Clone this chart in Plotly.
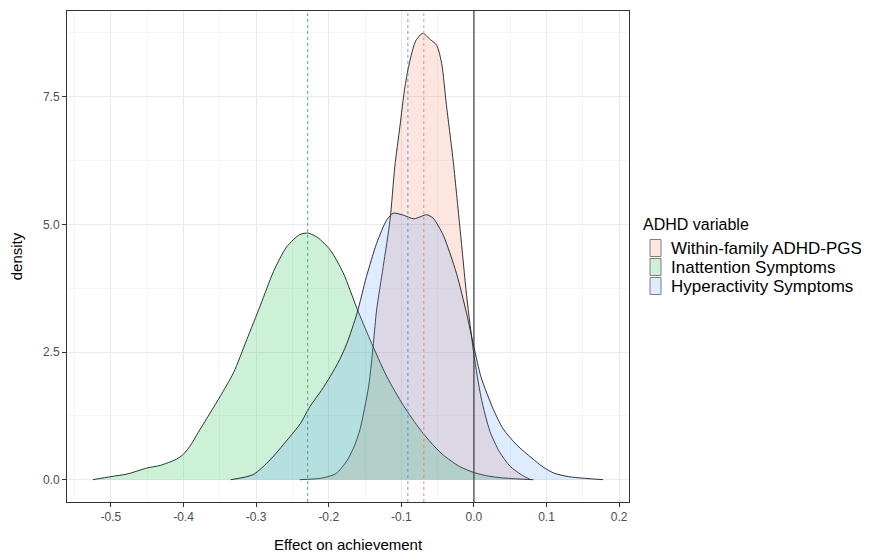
import plotly.graph_objects as go

# ---------------- data ----------------
groups = ["Within-family ADHD-PGS", "Inattention Symptoms", "Hyperactivity Symptoms"]

pgs_x = [-0.24, -0.21, -0.19, -0.175, -0.165, -0.157, -0.145, -0.1385, -0.134, -0.125,
         -0.1155, -0.109, -0.102, -0.095, -0.088, -0.08, -0.0706, -0.06, -0.0513, -0.0444,
         -0.038, -0.029, -0.019, -0.010, 0.0, 0.01, 0.022, 0.035, 0.05, 0.065, 0.078]
pgs_y = [0.0, 0.03, 0.12, 0.37, 0.65, 0.98, 1.83, 2.67, 3.33, 4.17,
         5.09, 6.13, 6.91, 7.70, 8.22, 8.60, 8.74, 8.62, 8.51, 8.15,
         7.35, 6.30, 4.90, 3.60, 2.45, 1.60, 0.95, 0.55, 0.26, 0.10, 0.0]

inatt_x = [-0.525, -0.50, -0.478, -0.45, -0.432, -0.41, -0.40, -0.39, -0.38, -0.368,
           -0.35, -0.331, -0.313, -0.294, -0.276, -0.258, -0.24, -0.228, -0.215, -0.198,
           -0.18, -0.161, -0.143, -0.12, -0.097, -0.074, -0.055, -0.042, -0.02, 0.0,
           0.02, 0.036, 0.06, 0.082]
inatt_y = [0.0, 0.06, 0.11, 0.23, 0.28, 0.40, 0.50, 0.68, 0.92, 1.20,
           1.62, 2.10, 2.74, 3.42, 4.08, 4.56, 4.80, 4.83, 4.74, 4.50,
           4.05, 3.35, 2.74, 2.02, 1.45, 0.98, 0.66, 0.48, 0.26, 0.14,
           0.07, 0.04, 0.015, 0.0]

hyper_x = [-0.335, -0.304, -0.28, -0.253, -0.239, -0.226, -0.21, -0.198, -0.185, -0.175,
           -0.161, -0.148, -0.134, -0.12, -0.111, -0.097, -0.083, -0.072, -0.065, -0.056,
           -0.042, -0.024, -0.01, 0.0, 0.01, 0.027, 0.04, 0.059, 0.08, 0.095,
           0.11, 0.13, 0.15, 0.178]
hyper_y = [0.0, 0.10, 0.40, 0.85, 1.10, 1.43, 1.75, 2.02, 2.35, 2.67,
           3.26, 3.98, 4.63, 5.09, 5.22, 5.18, 5.11, 5.16, 5.19, 5.12,
           4.78, 4.04, 3.25, 2.60, 2.00, 1.37, 1.00, 0.68, 0.42, 0.25,
           0.13, 0.06, 0.03, 0.0]

means = [-0.069, -0.229, -0.091]

x_ticks = [-0.5, -0.4, -0.3, -0.2, -0.1, 0.0, 0.1, 0.2]
x_tick_labels = ["-0.5", "-0.4", "-0.3", "-0.2", "-0.1", "0.0", "0.1", "0.2"]
y_ticks = [0.0, 2.5, 5.0, 7.5]
y_tick_labels = ["0.0", "2.5", "5.0", "7.5"]

# ---------------- styling ----------------
hues = ["#E8806A", "#2EA57A", "#5B8FE0"]
fills = ["rgba(242,128,95,0.2)", "rgba(0,186,56,0.2)", "rgba(97,156,255,0.2)"]
FONT = "Liberation Sans, Arial, sans-serif"

OFF = 8  # page body margin
W, H = 869 - OFF, 553 - OFF
# plot panel in page pixels
PL, PR, PT, PB = 67, 629, 11, 502
L, R, T, B = PL - OFF, PR - OFF, PT - OFF, PB - OFF


def px(xp):  # page pixel -> paper
    return (xp - PL) / (PR - PL)


def py(yp):
    return (PB - yp) / (PB - PT)


fig = go.Figure()
series = [(pgs_x, pgs_y), (inatt_x, inatt_y), (hyper_x, hyper_y)]
for (xs, ys), name, fc in zip(series, groups, fills):
    fig.add_trace(go.Scatter(
        x=xs, y=ys, name=name, mode="lines", fill="tozeroy", fillcolor=fc,
        line=dict(color="rgba(30,30,30,0.9)", width=1.0, shape="spline", smoothing=0.7),
        showlegend=False, hoverinfo="skip"))

shapes = []
for m, c in zip(means, hues):
    shapes.append(dict(type="line", xref="x", yref="paper", x0=m, x1=m, y0=0, y1=1,
                       line=dict(color=c, width=1, dash="3px,3px"), opacity=0.9))
shapes.append(dict(type="line", xref="x", yref="paper", x0=0, x1=0, y0=0, y1=1,
                   line=dict(color="#3A3A3A", width=1.2)))

# custom legend (ggplot style)
annotations = [dict(text="ADHD variable", xref="paper", yref="paper", x=px(641), y=py(224),
                    xanchor="left", yanchor="middle", showarrow=False,
                    font=dict(family=FONT, size=16, color="black"))]
key_top = [239.5, 258.5, 277.5]
for i, (name, fc) in enumerate(zip(groups, fills)):
    shapes.append(dict(type="rect", xref="paper", yref="paper",
                       x0=px(650), x1=px(661), y0=py(key_top[i] + 17), y1=py(key_top[i]),
                       fillcolor=fc, line=dict(color="#7F7F7F", width=1)))
    annotations.append(dict(text=name, xref="paper", yref="paper", x=px(669),
                            y=py(key_top[i] + 8.5), xanchor="left", yanchor="middle",
                            showarrow=False, font=dict(family=FONT, size=17, color="black")))

fig.update_layout(
    width=W, height=H,
    margin=dict(l=L, r=W - R, t=T, b=H - B, autoexpand=False),
    paper_bgcolor="white", plot_bgcolor="white",
    font=dict(family=FONT),
    shapes=shapes, annotations=annotations, showlegend=False,
)
fig.update_xaxes(
    range=[-0.5605, 0.2136], tickmode="array", tickvals=x_ticks, ticktext=x_tick_labels,
    showgrid=True, gridcolor="#EBEBEB", gridwidth=1,
    minor=dict(dtick=0.05, tick0=0, showgrid=True, gridcolor="#F5F5F5", gridwidth=0.6),
    zeroline=False, showline=True, mirror=True, linecolor="#333333", linewidth=1,
    ticks="outside", ticklen=4, tickcolor="#333333", tickwidth=1,
    tickfont=dict(size=12, color="#4D4D4D", family=FONT),
    title=dict(text="Effect on achievement", font=dict(size=15, color="black", family=FONT), standoff=16),
)
fig.update_yaxes(
    range=[-0.437, 9.18], tickmode="array", tickvals=y_ticks, ticktext=y_tick_labels,
    showgrid=True, gridcolor="#EBEBEB", gridwidth=1,
    minor=dict(dtick=1.25, tick0=0, showgrid=True, gridcolor="#F5F5F5", gridwidth=0.6),
    zeroline=False, showline=True, mirror=True, linecolor="#333333", linewidth=1,
    ticks="outside", ticklen=4, tickcolor="#333333", tickwidth=1,
    tickfont=dict(size=12, color="#4D4D4D", family=FONT),
    title=dict(text="density", font=dict(size=15, color="black", family=FONT), standoff=16),
)

fig.write_html("out.html")
